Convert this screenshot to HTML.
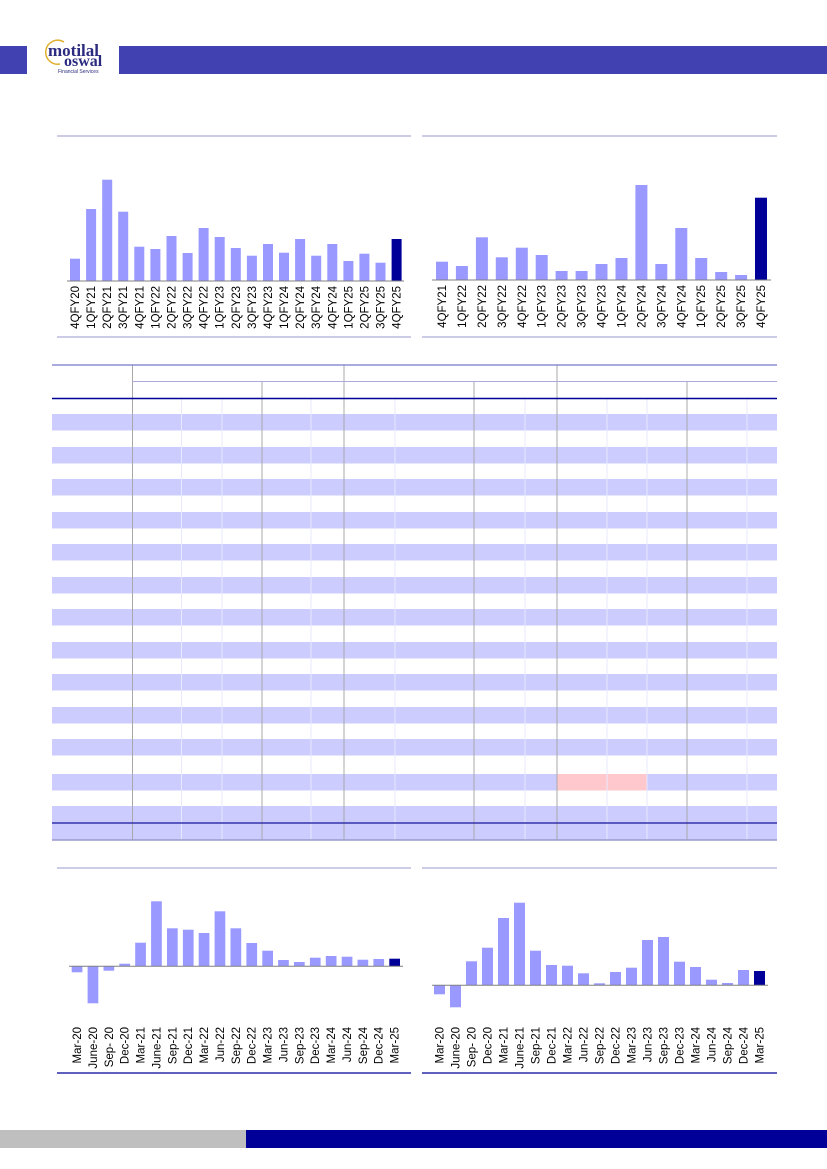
<!DOCTYPE html>
<html><head><meta charset="utf-8"><style>
html,body{margin:0;padding:0;background:#fff;}
svg{display:block;}
text{font-family:"Liberation Sans",sans-serif;font-size:11.5px;fill:#000;}
</style></head><body>
<svg width="827" height="1169" viewBox="0 0 827 1169" xmlns="http://www.w3.org/2000/svg">
<!-- header -->
<rect x="0" y="46" width="27" height="28" fill="#4141b1"/>
<rect x="119" y="46" width="708" height="28" fill="#4141b1"/>
<path d="M64 42 A12 12 0 1 0 60 64" fill="none" stroke="#e0b030" stroke-width="1.5"/>
<text x="48" y="56" style="font-family:'Liberation Serif',serif;font-size:17px;font-weight:bold;fill:#2b2b80">motilal</text>
<text x="64" y="66" style="font-family:'Liberation Serif',serif;font-size:16px;font-weight:bold;fill:#2b2b80">oswal</text>
<text x="58" y="73" style="font-size:5px;fill:#2b2b80">Financial Services</text>

<!-- top-left chart -->
<line x1="57" y1="136" x2="411" y2="136" stroke="#9999cc" stroke-width="1"/>
<line x1="57" y1="337" x2="411" y2="337" stroke="#9999cc" stroke-width="1"/>
<g fill="#9999ff">
<rect x="70" y="258.7" width="10" height="22.3"/><rect x="86.1" y="209" width="10" height="72"/><rect x="102.2" y="179.7" width="10" height="101.3"/><rect x="118.2" y="211.7" width="10" height="69.3"/><rect x="134.3" y="246.7" width="10" height="34.3"/><rect x="150.4" y="249" width="10" height="32"/><rect x="166.5" y="236" width="10" height="45"/><rect x="182.6" y="253" width="10" height="28"/><rect x="198.6" y="228" width="10" height="53"/><rect x="214.7" y="237" width="10" height="44"/><rect x="230.8" y="248" width="10" height="33"/><rect x="246.9" y="255.7" width="10" height="25.3"/><rect x="263" y="244" width="10" height="37"/><rect x="279" y="252.7" width="10" height="28.3"/><rect x="295.1" y="239" width="10" height="42"/><rect x="311.2" y="255.7" width="10" height="25.3"/><rect x="327.3" y="244" width="10" height="37"/><rect x="343.4" y="261" width="10" height="20"/><rect x="359.4" y="253.7" width="10" height="27.3"/><rect x="375.5" y="262.7" width="10" height="18.3"/>
</g>
<rect x="391.6" y="239" width="10" height="42" fill="#000099"/>
<line x1="67" y1="281" x2="404" y2="281" stroke="#808080" stroke-width="1"/>
<g text-anchor="end">
<text transform="translate(79,286) rotate(-90)">4QFY20</text><text transform="translate(95.1,286) rotate(-90)">1QFY21</text><text transform="translate(111.2,286) rotate(-90)">2QFY21</text><text transform="translate(127.2,286) rotate(-90)">3QFY21</text><text transform="translate(143.3,286) rotate(-90)">4QFY21</text><text transform="translate(159.4,286) rotate(-90)">1QFY22</text><text transform="translate(175.5,286) rotate(-90)">2QFY22</text><text transform="translate(191.6,286) rotate(-90)">3QFY22</text><text transform="translate(207.6,286) rotate(-90)">4QFY22</text><text transform="translate(223.7,286) rotate(-90)">1QFY23</text><text transform="translate(239.8,286) rotate(-90)">2QFY23</text><text transform="translate(255.9,286) rotate(-90)">3QFY23</text><text transform="translate(272,286) rotate(-90)">4QFY23</text><text transform="translate(288,286) rotate(-90)">1QFY24</text><text transform="translate(304.1,286) rotate(-90)">2QFY24</text><text transform="translate(320.2,286) rotate(-90)">3QFY24</text><text transform="translate(336.3,286) rotate(-90)">4QFY24</text><text transform="translate(352.4,286) rotate(-90)">1QFY25</text><text transform="translate(368.4,286) rotate(-90)">2QFY25</text><text transform="translate(384.5,286) rotate(-90)">3QFY25</text><text transform="translate(400.6,286) rotate(-90)">4QFY25</text>
</g>

<!-- top-right chart -->
<line x1="422" y1="136" x2="777" y2="136" stroke="#9999cc" stroke-width="1"/>
<line x1="422" y1="337" x2="777" y2="337" stroke="#9999cc" stroke-width="1"/>
<g fill="#9999ff">
<rect x="436" y="261.7" width="12" height="18.3"/><rect x="455.9" y="266" width="12" height="14"/><rect x="475.9" y="237.3" width="12" height="42.7"/><rect x="495.8" y="257.3" width="12" height="22.7"/><rect x="515.8" y="247.7" width="12" height="32.3"/><rect x="535.7" y="255" width="12" height="25"/><rect x="555.6" y="271" width="12" height="9"/><rect x="575.6" y="271" width="12" height="9"/><rect x="595.5" y="264" width="12" height="16"/><rect x="615.5" y="258" width="12" height="22"/><rect x="635.4" y="185" width="12" height="95"/><rect x="655.3" y="264" width="12" height="16"/><rect x="675.3" y="228" width="12" height="52"/><rect x="695.2" y="258" width="12" height="22"/><rect x="715.2" y="272" width="12" height="8"/><rect x="735.1" y="275" width="12" height="5"/>
</g>
<rect x="755" y="197.7" width="12" height="82.3" fill="#000099"/>
<line x1="432" y1="280" x2="771" y2="280" stroke="#808080" stroke-width="1"/>
<g text-anchor="end">
<text transform="translate(446,285) rotate(-90)">4QFY21</text><text transform="translate(465.9,285) rotate(-90)">1QFY22</text><text transform="translate(485.9,285) rotate(-90)">2QFY22</text><text transform="translate(505.8,285) rotate(-90)">3QFY22</text><text transform="translate(525.8,285) rotate(-90)">4QFY22</text><text transform="translate(545.7,285) rotate(-90)">1QFY23</text><text transform="translate(565.6,285) rotate(-90)">2QFY23</text><text transform="translate(585.6,285) rotate(-90)">3QFY23</text><text transform="translate(605.5,285) rotate(-90)">4QFY23</text><text transform="translate(625.5,285) rotate(-90)">1QFY24</text><text transform="translate(645.4,285) rotate(-90)">2QFY24</text><text transform="translate(665.3,285) rotate(-90)">3QFY24</text><text transform="translate(685.3,285) rotate(-90)">4QFY24</text><text transform="translate(705.2,285) rotate(-90)">1QFY25</text><text transform="translate(725.2,285) rotate(-90)">2QFY25</text><text transform="translate(745.1,285) rotate(-90)">3QFY25</text><text transform="translate(765,285) rotate(-90)">4QFY25</text>
</g>

<!-- table -->
<g fill="#ccccff">
<rect x="52" y="414" width="725" height="16.5"/><rect x="52" y="447" width="725" height="16.5"/><rect x="52" y="479" width="725" height="16.5"/><rect x="52" y="512" width="725" height="16.5"/><rect x="52" y="544" width="725" height="16.5"/><rect x="52" y="577" width="725" height="16.5"/><rect x="52" y="609" width="725" height="16.5"/><rect x="52" y="642" width="725" height="16.5"/><rect x="52" y="674" width="725" height="16.5"/><rect x="52" y="707" width="725" height="16.5"/><rect x="52" y="739" width="725" height="16.5"/><rect x="52" y="774" width="725" height="16.5"/><rect x="52" y="806" width="725" height="16.5"/><rect x="52" y="823" width="725" height="16.5"/>
</g>
<rect x="557" y="774" width="90" height="16.5" fill="#ffc8cc"/>
<g stroke="#e8e8ff" stroke-width="1">
<line x1="181.5" y1="399" x2="181.5" y2="840"/><line x1="222" y1="399" x2="222" y2="840"/><line x1="311" y1="399" x2="311" y2="840"/><line x1="395" y1="399" x2="395" y2="840"/><line x1="525" y1="399" x2="525" y2="840"/><line x1="607" y1="399" x2="607" y2="840"/><line x1="647" y1="399" x2="647" y2="840"/><line x1="747" y1="399" x2="747" y2="840"/>
</g>
<g stroke="#a8a8a8" stroke-width="1">
<line x1="132.5" y1="365" x2="132.5" y2="840"/><line x1="262" y1="381" x2="262" y2="840"/><line x1="344" y1="365" x2="344" y2="840"/><line x1="474" y1="381" x2="474" y2="840"/><line x1="557" y1="365" x2="557" y2="840"/><line x1="687" y1="381" x2="687" y2="840"/>
</g>
<line x1="52" y1="365" x2="777" y2="365" stroke="#7777cc" stroke-width="1.2"/>
<line x1="132" y1="381.5" x2="777" y2="381.5" stroke="#aaaadd" stroke-width="1"/>
<line x1="52" y1="398.5" x2="777" y2="398.5" stroke="#000099" stroke-width="1.5"/>
<line x1="52" y1="823" x2="777" y2="823" stroke="#3333aa" stroke-width="1.5"/>
<line x1="52" y1="840" x2="777" y2="840" stroke="#9999cc" stroke-width="1.5"/>

<!-- bottom-left chart -->
<line x1="57" y1="868" x2="411" y2="868" stroke="#9999cc" stroke-width="1"/>
<line x1="57" y1="1073" x2="411" y2="1073" stroke="#000099" stroke-width="1.2"/>
<g fill="#9999ff">
<rect x="71.7" y="966.3" width="10.7" height="6"/><rect x="87.6" y="966.3" width="10.7" height="37"/><rect x="103.5" y="966.3" width="10.7" height="4.4"/><rect x="119.3" y="963.7" width="10.7" height="2.6"/><rect x="135.2" y="942.7" width="10.7" height="23.6"/><rect x="151.1" y="901.3" width="10.7" height="65"/><rect x="167" y="928.3" width="10.7" height="38"/><rect x="182.9" y="929.7" width="10.7" height="36.6"/><rect x="198.7" y="933" width="10.7" height="33.3"/><rect x="214.6" y="911.3" width="10.7" height="55"/><rect x="230.5" y="928.3" width="10.7" height="38"/><rect x="246.4" y="943" width="10.7" height="23.3"/><rect x="262.3" y="950.7" width="10.7" height="15.6"/><rect x="278.1" y="960" width="10.7" height="6.3"/><rect x="294" y="962" width="10.7" height="4.3"/><rect x="309.9" y="957.7" width="10.7" height="8.6"/><rect x="325.8" y="956" width="10.7" height="10.3"/><rect x="341.7" y="956.7" width="10.7" height="9.6"/><rect x="357.5" y="959.7" width="10.7" height="6.6"/><rect x="373.4" y="959" width="10.7" height="7.3"/>
</g>
<rect x="389.3" y="958.7" width="10.7" height="7.6" fill="#000099"/>
<line x1="69" y1="966.3" x2="403" y2="966.3" stroke="#808080" stroke-width="1"/>
<g text-anchor="end">
<text transform="translate(81,1027) rotate(-90)">Mar-20</text><text transform="translate(96.9,1027) rotate(-90)">June-20</text><text transform="translate(112.8,1027) rotate(-90)">Sep- 20</text><text transform="translate(128.6,1027) rotate(-90)">Dec-20</text><text transform="translate(144.5,1027) rotate(-90)">Mar-21</text><text transform="translate(160.4,1027) rotate(-90)">June-21</text><text transform="translate(176.3,1027) rotate(-90)">Sep-21</text><text transform="translate(192.2,1027) rotate(-90)">Dec-21</text><text transform="translate(208,1027) rotate(-90)">Mar-22</text><text transform="translate(223.9,1027) rotate(-90)">Jun-22</text><text transform="translate(239.8,1027) rotate(-90)">Sep-22</text><text transform="translate(255.7,1027) rotate(-90)">Dec-22</text><text transform="translate(271.6,1027) rotate(-90)">Mar-23</text><text transform="translate(287.4,1027) rotate(-90)">Jun-23</text><text transform="translate(303.3,1027) rotate(-90)">Sep-23</text><text transform="translate(319.2,1027) rotate(-90)">Dec-23</text><text transform="translate(335.1,1027) rotate(-90)">Mar-24</text><text transform="translate(351,1027) rotate(-90)">Jun-24</text><text transform="translate(366.8,1027) rotate(-90)">Sep-24</text><text transform="translate(382.7,1027) rotate(-90)">Dec-24</text><text transform="translate(398.6,1027) rotate(-90)">Mar-25</text>
</g>

<!-- bottom-right chart -->
<line x1="422" y1="868" x2="777" y2="868" stroke="#9999cc" stroke-width="1"/>
<line x1="422" y1="1073" x2="777" y2="1073" stroke="#000099" stroke-width="1.2"/>
<g fill="#9999ff">
<rect x="434" y="985.3" width="11" height="9"/><rect x="450" y="985.3" width="11" height="22"/><rect x="466" y="961.3" width="11" height="24"/><rect x="482" y="947.7" width="11" height="37.6"/><rect x="498" y="918" width="11" height="67.3"/><rect x="514" y="902.7" width="11" height="82.6"/><rect x="530" y="950.7" width="11" height="34.6"/><rect x="546" y="965" width="11" height="20.3"/><rect x="562" y="965.7" width="11" height="19.6"/><rect x="578" y="973.3" width="11" height="12"/><rect x="594" y="983.3" width="11" height="2"/><rect x="610" y="972" width="11" height="13.3"/><rect x="626" y="967.7" width="11" height="17.6"/><rect x="642" y="940" width="11" height="45.3"/><rect x="658" y="937" width="11" height="48.3"/><rect x="674" y="961.7" width="11" height="23.6"/><rect x="690" y="967" width="11" height="18.3"/><rect x="706" y="979.7" width="11" height="5.6"/><rect x="722" y="983" width="11" height="2.3"/><rect x="738" y="970" width="11" height="15.3"/>
</g>
<rect x="754" y="971" width="11" height="14.3" fill="#000099"/>
<line x1="432" y1="985.3" x2="768" y2="985.3" stroke="#808080" stroke-width="1"/>
<g text-anchor="end">
<text transform="translate(443.5,1027) rotate(-90)">Mar-20</text><text transform="translate(459.5,1027) rotate(-90)">June-20</text><text transform="translate(475.5,1027) rotate(-90)">Sep- 20</text><text transform="translate(491.5,1027) rotate(-90)">Dec-20</text><text transform="translate(507.5,1027) rotate(-90)">Mar-21</text><text transform="translate(523.5,1027) rotate(-90)">June-21</text><text transform="translate(539.5,1027) rotate(-90)">Sep-21</text><text transform="translate(555.5,1027) rotate(-90)">Dec-21</text><text transform="translate(571.5,1027) rotate(-90)">Mar-22</text><text transform="translate(587.5,1027) rotate(-90)">Jun-22</text><text transform="translate(603.5,1027) rotate(-90)">Sep-22</text><text transform="translate(619.5,1027) rotate(-90)">Dec-22</text><text transform="translate(635.5,1027) rotate(-90)">Mar-23</text><text transform="translate(651.5,1027) rotate(-90)">Jun-23</text><text transform="translate(667.5,1027) rotate(-90)">Sep-23</text><text transform="translate(683.5,1027) rotate(-90)">Dec-23</text><text transform="translate(699.5,1027) rotate(-90)">Mar-24</text><text transform="translate(715.5,1027) rotate(-90)">Jun-24</text><text transform="translate(731.5,1027) rotate(-90)">Sep-24</text><text transform="translate(747.5,1027) rotate(-90)">Dec-24</text><text transform="translate(763.5,1027) rotate(-90)">Mar-25</text>
</g>

<!-- footer -->
<rect x="0" y="1130" width="246" height="18" fill="#bfbfbf"/>
<rect x="246" y="1130" width="581" height="18" fill="#000099"/>
</svg>
</body></html>
